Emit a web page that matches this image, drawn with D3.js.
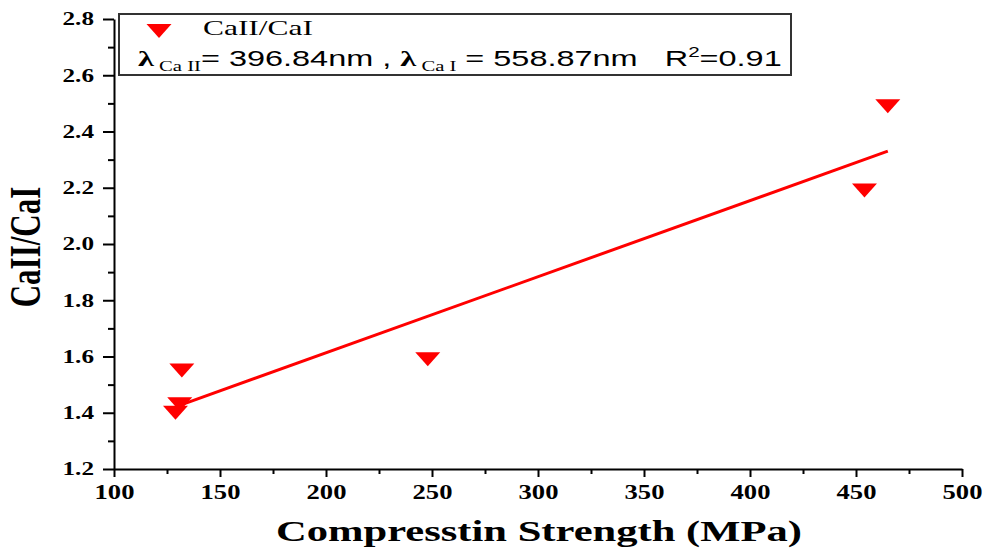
<!DOCTYPE html>
<html>
<head>
<meta charset="utf-8">
<script src="https://cdn.jsdelivr.net/npm/d3@7"></script>
<style>
  body { margin: 0; background: #fff; }
  svg { display: block; }
</style>
</head>
<body>
<div id="chart"></div>
<script>
// data
var strength = [129, 131, 132, 248, 454, 465];
var ratio = [1.40, 1.43, 1.55, 1.59, 2.19, 2.49];
var xTicks = [100, 150, 200, 250, 300, 350, 400, 450, 500];
var yTicks = [1.2, 1.4, 1.6, 1.8, 2.0, 2.2, 2.4, 2.6, 2.8];
var seriesName = "CaII/CaI";

var width = 984, height = 548;
var serif = "'Liberation Serif', 'Times New Roman', serif";
var sans = "'Liberation Sans', Arial, sans-serif";

var svg = d3.select("#chart")
    .append("svg")
    .attr("width", width)
    .attr("height", height);

var xScale = d3.scaleLinear().domain([100, 500]).range([114, 962]);
var yScale = d3.scaleLinear().domain([1.2, 2.8]).range([469, 19]);

// stretch text horizontally (the picture is wider than tall)
function stretchTicks(sel, sx) {
    sel.each(function() {
        var t = d3.select(this);
        var x = +t.attr("x") || 0;
        t.attr("x", x / sx).attr("transform", "scale(" + sx + ",1)");
    });
}
function stretchTo(node, x0, w) {
    var bb = node.getBBox();
    var s = w / bb.width;
    d3.select(node).attr("transform",
        "translate(" + x0 + ",0) scale(" + s + ",1) translate(" + (-bb.x) + ",0)");
}

//Minor ticks
var xMinor = d3.range(125, 500, 50);
var yMinor = d3.range(1.3, 2.8, 0.2);

svg.append("g")
    .attr("transform", "translate(0," + yScale(1.2) + ")")
    .call(d3.axisBottom(xScale).tickValues(xMinor).tickSize(5).tickFormat(""))
    .call(function(g) { g.select(".domain").remove(); })
    .selectAll("line").attr("stroke-width", 2);

svg.append("g")
    .attr("transform", "translate(" + xScale(100) + ",0)")
    .call(d3.axisLeft(yScale).tickValues(yMinor).tickSize(6).tickFormat(""))
    .call(function(g) { g.select(".domain").remove(); })
    .selectAll("line").attr("stroke-width", 2);

//X-Axis
var gx = svg.append("g")
    .attr("transform", "translate(0," + yScale(1.2) + ")")
    .call(d3.axisBottom(xScale).tickValues(xTicks).tickSize(8).tickSizeOuter(0).tickPadding(8));
gx.select(".domain").attr("stroke-width", 2);
gx.selectAll("line").attr("stroke-width", 2);
gx.selectAll("text")
    .attr("font-family", serif)
    .attr("font-weight", "bold")
    .attr("font-size", 20)
    .attr("fill", "#000")
    .call(stretchTicks, 1.33);

//Y-Axis
var gy = svg.append("g")
    .attr("transform", "translate(" + xScale(100) + ",0)")
    .call(d3.axisLeft(yScale).tickValues(yTicks).tickSize(11).tickSizeOuter(0).tickPadding(9)
        .tickFormat(d3.format(".1f")));
gy.select(".domain").attr("stroke-width", 2);
gy.selectAll("line").attr("stroke-width", 2);
gy.selectAll("text")
    .attr("font-family", serif)
    .attr("font-weight", "bold")
    .attr("font-size", 18)
    .attr("fill", "#000")
    .call(stretchTicks, 1.4);

//Axis titles
var xt = svg.append("text")
    .attr("x", 0)
    .attr("y", 541)
    .attr("font-family", serif)
    .attr("font-weight", "bold")
    .attr("font-size", 30)
    .text("Compresstin Strength (MPa)");
stretchTo(xt.node(), 276, 526);

svg.append("text")
    .attr("transform", "translate(40,247) scale(1.45,1) rotate(-90)")
    .attr("text-anchor", "middle")
    .attr("font-family", serif)
    .attr("font-weight", "bold")
    .attr("font-size", 31)
    .text("CaII/CaI");

//Linear fit
var mx = d3.mean(strength), my = d3.mean(ratio);
var sxy = d3.sum(strength, function(d, i) { return (d - mx) * (ratio[i] - my); });
var sxx = d3.sum(strength, function(d) { return (d - mx) * (d - mx); });
var slope = sxy / sxx;
var intercept = my - slope * mx;
var xExt = d3.extent(strength);

svg.append("path")
    .datum(xExt)
    .attr("fill", "none")
    .attr("stroke", "#ff0000")
    .attr("stroke-width", 3)
    .attr("d", d3.line()
        .x(function(d) { return xScale(d); })
        .y(function(d) { return yScale(intercept + slope * d); }));

//Points (down triangles)
function tri(cx, cy) {
    return "M" + (cx - 12.5) + "," + (cy - 7) + "L" + (cx + 12.5) + "," + (cy - 7) +
        "L" + cx + "," + (cy + 7) + "Z";
}
svg.selectAll(".pt")
    .data(strength)
    .enter().append("path")
    .attr("class", "pt")
    .attr("fill", "#ff0000")
    .attr("d", function(d, i) { return tri(xScale(d), yScale(ratio[i])); });

// Legend
svg.append("rect")
    .attr("x", 119)
    .attr("y", 14)
    .attr("width", 672)
    .attr("height", 61)
    .attr("fill", "#fff")
    .attr("stroke", "#333")
    .attr("stroke-width", 2);

svg.append("path")
    .attr("fill", "#ff0000")
    .attr("d", tri(159, 31));

var l1 = svg.append("text")
    .attr("y", 35)
    .attr("font-family", serif)
    .attr("font-size", 20)
    .text(seriesName);
stretchTo(l1.node(), 203, 110);

var l2 = svg.append("text")
    .attr("y", 66)
    .attr("font-family", sans)
    .attr("font-size", 22)
    .style("white-space", "pre");
l2.append("tspan").attr("font-family", serif).attr("font-weight", "bold").text("λ");
l2.append("tspan").attr("font-family", serif).attr("font-size", 14).attr("dy", 5).text(" Ca II");
l2.append("tspan").attr("dy", -5).text("= 396.84nm , ");
l2.append("tspan").attr("font-family", serif).attr("font-weight", "bold").text("λ");
l2.append("tspan").attr("font-family", serif).attr("font-size", 14).attr("dy", 5).text(" Ca I");
l2.append("tspan").attr("dy", -5).text(" = 558.87nm   R");
l2.append("tspan").attr("font-size", 14).attr("dy", -9).text("2");
l2.append("tspan").attr("dy", 9).text("=0.91");
stretchTo(l2.node(), 138, 644);
</script>
</body>
</html>
